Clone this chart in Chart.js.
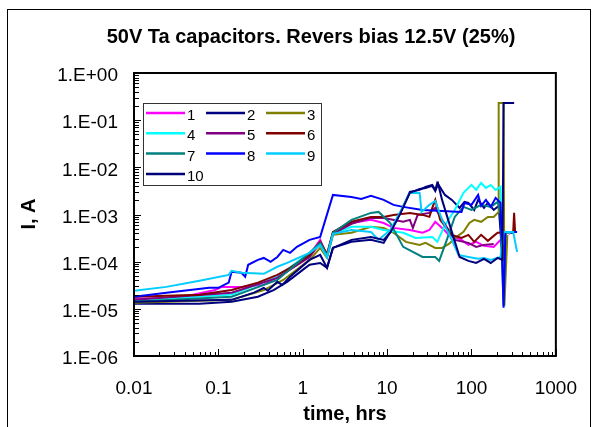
<!DOCTYPE html>
<html>
<head>
<meta charset="utf-8">
<script src="https://cdn.jsdelivr.net/npm/chart.js@4"></script>
<style>
html,body{margin:0;padding:0;background:#fff;}
#wrap{position:relative;width:598px;height:427px;}
</style>
</head>
<body>
<div id="wrap"><canvas id="c" width="598" height="427"></canvas></div>
<script>
const chartTitle = "50V Ta capacitors. Revers bias 12.5V (25%)";
const xTitle = "time, hrs";
const yTitle = "I, A";
const seriesLabels = ["1","2","3","4","5","6","7","8","9","10"];
const seriesColors = ["#FF00FF","#000080","#808000","#00FFFF","#800080","#800000","#008080","#0000FF","#00CCFF","#00007A"];
const xMin = 0.01, xMax = 1000, yMin = 1e-6, yMax = 1;

const t1 = [0.01,0.0341,0.0914,0.110,0.187,0.345,0.50,0.853,1.205,1.61,1.94,2.28,3.78,6.43,9.1,11.9,18.6,26.3,31.7,37.2,44.8,53.9,76.2,91.9,113.5,140.6,183.3,220.8,252.4,288.4];
const i1 = [1.63e-5,1.71e-5,2.5e-5,2.92e-5,2.92e-5,3.22e-5,4.77e-5,8.6e-5,1.39e-4,2.9e-4,1.33e-4,4.1e-4,6.6e-4,7.7e-4,6.6e-4,5.2e-4,4.7e-4,4.1e-4,4.7e-4,7.0e-4,5.2e-4,3.7e-4,2.9e-4,2.27e-4,2.63e-4,2.16e-4,2.06e-4,2.9e-4,4.28e-4,3.88e-4];

const t2 = [0.01,0.0597,0.1436,0.294,0.451,0.653,1,1.205,1.61,1.94,2.28,3.78,6.43,9.1,10.9,14.3,18.6,24.3,28.5,34.3,37.2,39.3,41.4,48.5,58.5,72.3,82.6,91.9,107.7,119.8,140.6,156.4,183.3,210,232.9,252.4,312];
const i2 = [1.28e-5,1.28e-5,1.41e-5,1.8e-5,2.5e-5,3.73e-5,6.7e-5,8.6e-5,9.4e-5,7.4e-5,1.96e-4,2.63e-4,2.9e-4,2.5e-4,4.28e-4,1.08e-3,3.0e-3,3.32e-3,3.85e-3,4.24e-3,3.32e-3,4.67e-3,4.04e-3,2.6e-3,2.04e-3,1.38e-3,1.85e-3,1.76e-3,1.25e-3,2.04e-3,1.38e-3,1.76e-3,1.25e-3,1.52e-3,1.15e-4,4.1e-4,4.1e-4];

const t3 = [0.01,0.1436,0.345,0.587,1.205,1.61,1.94,2.28,3.78,6.43,9.1,11.9,16.7,24.3,28.5,37.2,44.8,53.9,66.7,80.4,94.4,107.7,130,156.4,183.3,210,210,240,245.6,266];
const i3 = [1.34e-5,1.55e-5,2.5e-5,4.1e-5,1.09e-4,1.96e-4,1.2e-4,3.7e-4,4.1e-4,5.5e-4,5.2e-4,4.1e-4,2.63e-4,2.27e-4,2.5e-4,1.96e-4,1.96e-4,2.38e-4,3.35e-4,4.28e-4,6.6e-4,7.7e-4,7.0e-4,8.9e-4,8.9e-4,1.135e-3,0.231,0.231,1.16e-5,3.7e-4];

const t4 = [0.01,0.1436,0.50,1.205,1.61,1.94,2.28,3.78,6.43,9.1,15.5,21.8,34.3,39.3,48.5,63.3,80.4,100,113.5,130,148.3,169,193.3,220.8,227,240,288.4];
const i4 = [1.48e-5,2.0e-5,4.77e-5,1.54e-4,2.27e-4,1.26e-4,3.88e-4,5.5e-4,5.5e-4,4.7e-4,4.1e-4,3.19e-4,3.35e-4,2.63e-4,6.02e-4,1.25e-3,2.87e-3,4.24e-3,3.32e-3,4.67e-3,3.66e-3,4.24e-3,3.32e-3,3.85e-3,1.78e-4,4.1e-4,4.1e-4];

const t5 = [0.01,0.1436,0.50,1.205,1.61,1.94,2.28,3.78,6.43,9.1,15.5,18.6,20.2,23.0,31.7,37.2,44.8,63.3,91.9,113.5,140.6,183.3];
const i5 = [1.55e-5,2.2e-5,4.54e-5,1.26e-4,2.5e-4,1.33e-4,3.88e-4,6.32e-4,8.47e-4,8.47e-4,7.0e-4,7.7e-4,5.2e-4,9.8e-4,1.08e-3,1.38e-3,7.7e-4,2.9e-4,2.5e-4,2.06e-4,2.27e-4,2.38e-4];

const t6 = [0.01,0.0597,0.1436,0.294,0.50,0.708,1.205,1.61,1.94,2.28,3.78,6.43,9.1,11.9,18.6,26.3,31.7,34.3,37.2,42.5,58.5,76.2,91.9,107.7,130,156.4,183.3,203.9,288.4,312,320,328.6];
const i6 = [1.8e-5,2.0e-5,2.5e-5,3.6e-5,5.25e-5,7.4e-5,1.39e-4,2.63e-4,1.46e-4,4.28e-4,7.0e-4,8.9e-4,8.9e-4,9.8e-4,1.08e-3,9.8e-4,8.9e-4,1.38e-3,2.04e-3,7.7e-4,3.7e-4,3.19e-4,3.7e-4,2.63e-4,3.7e-4,2.76e-4,3.52e-4,4.1e-4,4.28e-4,4.28e-4,1.08e-3,4.28e-4];

const t7 = [0.01,0.1436,0.50,1.205,1.61,1.94,2.28,3.78,6.43,7.93,10.9,15.5,26.3,37.2,41.4,51,63.3,80.4,100,130,169,203.9,220.8,240,252.4];
const i7 = [1.41e-5,1.8e-5,4.1e-5,1.54e-4,2.5e-4,1.33e-4,4.1e-4,7.7e-4,1.08e-3,1.135e-3,6.6e-4,2.06e-4,1.26e-4,1.26e-4,1.04e-4,2.9e-4,8.9e-4,1.45e-3,1.25e-3,1.6e-3,1.45e-3,1.85e-3,1.135e-3,1.16e-5,4.28e-4];

const t8 = [0.01,0.0242,0.0779,0.1,0.1325,0.1436,0.1874,0.208,0.2257,0.294,0.345,0.416,0.50,0.587,0.708,0.853,1.205,1.61,2.28,3.78,4.93,6.43,9.1,11.9,15.5,26.3,44.8,76.2,82.6,100,119.8,130,148.3,169,193.3,220.8,240,252.4,347];
const i8 = [1.8e-5,2.2e-5,2.79e-5,2.79e-5,3.6e-5,6.08e-5,5.8e-5,4.77e-5,8.6e-5,1.09e-4,1.2e-4,9.9e-5,1.26e-4,1.78e-4,1.54e-4,2.06e-4,2.9e-4,3.35e-4,2.6e-3,2.36e-3,2.14e-3,2.48e-3,2.04e-3,1.6e-3,1.45e-3,1.25e-3,1.19e-3,1.135e-3,1.76e-3,1.6e-3,2.6e-3,1.52e-3,2.04e-3,1.45e-3,2.25e-3,1.76e-3,1.05e-5,4.28e-4,4.28e-4];

const t9 = [0.01,0.0242,0.0597,0.1325,0.1436,0.1874,0.345,0.50,0.653,1.205,1.61,1.94,2.28,3.78,6.43,7.93,10.9,14.3,18.6,24.3,25.6,31.7,37.2,44.8,58.5,70,91.9,119.8,140.6,169,220.8,240,312,347];
const i9 = [2.41e-5,2.92e-5,3.92e-5,5.25e-5,6.38e-5,5.8e-5,5.52e-5,7.8e-5,9.4e-5,1.54e-4,2.27e-4,1.26e-4,3.88e-4,4.7e-4,4.28e-4,2.9e-4,4.7e-4,1.135e-3,2.87e-3,2.87e-3,1.135e-3,1.6e-3,1.94e-3,7.7e-4,2.9e-4,1.39e-4,1.26e-4,1.15e-4,1.2e-4,1.09e-4,1.26e-4,4.28e-4,4.28e-4,1.61e-4];

const t10 = [0.01,0.1436,0.265,0.345,0.384,0.50,0.572,0.708,1.205,1.61,1.94,2.28,3.78,6.43,9.1,10.9,14.3,18.6,24.3,28.5,34.3,37.2,40.3,44.8,58.5,72.3,91.9,113.5,140.6,169,203.9,232.9,240,320];
const i10 = [1.41e-5,1.55e-5,2.2e-5,2.79e-5,2.41e-5,3.73e-5,3.22e-5,4.77e-5,1.09e-4,1.39e-4,7.4e-5,1.96e-4,2.9e-4,3.35e-4,2.9e-4,4.1e-4,1.03e-3,2.87e-3,3.49e-3,3.66e-3,4.04e-3,3.16e-3,4.45e-3,2.04e-3,4.28e-4,1.26e-4,1.04e-4,9.4e-5,1.15e-4,9.4e-5,1.2e-4,1.09e-4,0.231,0.231];

const seriesTimes = [t1,t2,t3,t4,t5,t6,t7,t8,t9,t10];
const seriesValues = [i1,i2,i3,i4,i5,i6,i7,i8,i9,i10];

const FONT = "'Liberation Sans', Arial, sans-serif";

function logInfo(v) {
  const e = Math.floor(Math.log10(v) + 1e-9);
  const m = v / Math.pow(10, e);
  const r = Math.round(m);
  return { e, m, isInt: Math.abs(m - r) < 1e-6, r };
}

const datasets = seriesLabels.map((lab, k) => ({
  label: lab,
  data: seriesTimes[k].map((t, j) => ({ x: t, y: seriesValues[k][j] })),
  borderColor: seriesColors[k],
  backgroundColor: seriesColors[k],
  borderWidth: 2,
  pointRadius: 0,
  showLine: true,
  fill: false,
  tension: 0,
  order: seriesLabels.length - k
}));

const decor = {
  id: 'decor',
  beforeDraw(chart) {
    const ctx = chart.ctx;
    ctx.save();
    ctx.fillStyle = '#fff';
    ctx.fillRect(0, 0, chart.width, chart.height);
    ctx.restore();
  },
  afterDraw(chart) {
    const ctx = chart.ctx, a = chart.chartArea;
    const xs = chart.scales.x, ys = chart.scales.y;
    ctx.save();
    // tick marks (inside)
    ctx.strokeStyle = '#000';
    ctx.lineWidth = 1;
    for (const t of xs.ticks) {
      const li = logInfo(t.value);
      if (!li.isInt) continue;
      const px = Math.round(xs.getPixelForValue(t.value)) + 0.5;
      const len = li.r === 1 ? 7 : 4;
      ctx.beginPath(); ctx.moveTo(px, a.bottom); ctx.lineTo(px, a.bottom - len); ctx.stroke();
    }
    for (const t of ys.ticks) {
      const li = logInfo(t.value);
      if (!li.isInt) continue;
      const py = Math.round(ys.getPixelForValue(t.value)) + 0.5;
      const len = li.r === 1 ? 7 : 5;
      ctx.beginPath(); ctx.moveTo(a.left, py); ctx.lineTo(a.left + len, py); ctx.stroke();
    }
    // plot frame
    ctx.lineWidth = 2;
    ctx.strokeRect(a.left, a.top, a.right - a.left, a.bottom - a.top);
    // outer border
    ctx.lineWidth = 1;
    ctx.strokeRect(7.5, 9.5, 583, 440);
    // title
    ctx.fillStyle = '#000';
    ctx.font = "bold 20px " + FONT;
    ctx.textAlign = 'center';
    ctx.textBaseline = 'alphabetic';
    ctx.fillText(chartTitle, 311, 43);
    // x title
    ctx.fillText(xTitle, (a.left + a.right) / 2, 420);
    // y title
    ctx.save();
    ctx.translate(35, 214);
    ctx.rotate(-Math.PI / 2);
    ctx.fillText(yTitle, 0, 0);
    ctx.restore();
    // legend
    const lx = 143, ly = 103, lw = 178, lh = 82;
    ctx.fillStyle = '#fff';
    ctx.fillRect(lx, ly, lw, lh);
    ctx.strokeStyle = '#333';
    ctx.lineWidth = 1;
    ctx.strokeRect(lx + 0.5, ly + 0.5, lw, lh);
    ctx.font = "15px " + FONT;
    ctx.textAlign = 'left';
    ctx.textBaseline = 'middle';
    chart.data.datasets.forEach((ds, k) => {
      const col = k % 3, row = Math.floor(k / 3);
      const x0 = lx + 3 + col * 60;
      const y0 = ly + 10 + row * 20.3;
      ctx.strokeStyle = ds.borderColor;
      ctx.lineWidth = 2.5;
      ctx.beginPath(); ctx.moveTo(x0, y0); ctx.lineTo(x0 + 39, y0); ctx.stroke();
      ctx.fillStyle = '#000';
      ctx.fillText(ds.label, x0 + 41, y0 + 3);
    });
    ctx.restore();
  }
};

new Chart(document.getElementById('c'), {
  type: 'scatter',
  data: { datasets },
  options: {
    responsive: false,
    animation: false,
    events: [],
    layout: { padding: { left: 0, top: 73, right: 31, bottom: 0 } },
    plugins: { legend: { display: false }, title: { display: false }, tooltip: { enabled: false } },
    scales: {
      x: {
        type: 'logarithmic',
        min: xMin, max: xMax,
        grid: { display: false, drawTicks: false },
        border: { display: false },
        afterFit(s) { s.height = 71; },
        ticks: {
          autoSkip: false, maxRotation: 0, minRotation: 0,
          padding: 21,
          color: '#000',
          font: { family: FONT, size: 19 },
          callback(v) { const li = logInfo(v); return (li.isInt && li.r === 1) ? String(Number(v.toPrecision(3))) : ''; }
        }
      },
      y: {
        type: 'logarithmic',
        min: yMin, max: yMax,
        grid: { display: false, drawTicks: false },
        border: { display: false },
        afterFit(s) { s.width = 134; },
        ticks: {
          autoSkip: false,
          padding: 16,
          labelOffset: 3,
          color: '#000',
          font: { family: FONT, size: 19 },
          callback(v) {
            const li = logInfo(v);
            if (!(li.isInt && li.r === 1)) return '';
            const e = li.e;
            return '1.E' + (e >= 0 ? '+' : '-') + String(Math.abs(e)).padStart(2, '0');
          }
        }
      }
    }
  },
  plugins: [decor]
});
</script>
</body>
</html>
